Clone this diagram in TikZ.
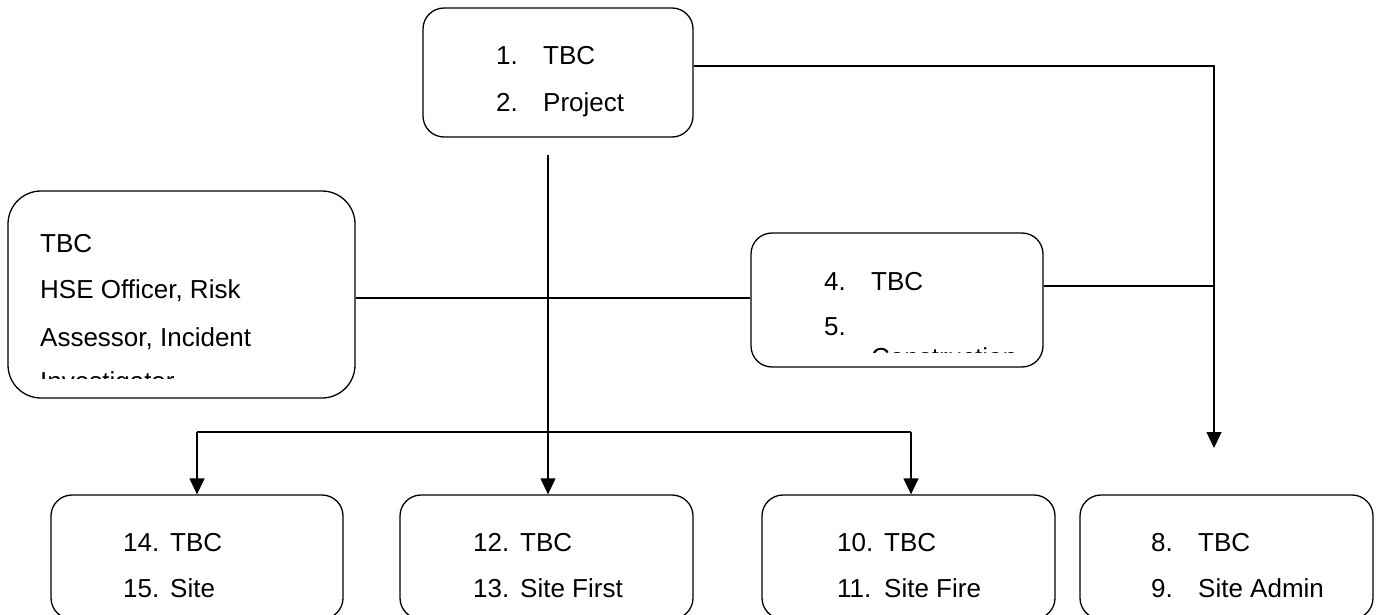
\documentclass[tikz,border=0pt]{standalone}
\usepackage{fontspec}
\setmainfont{Liberation Sans}
\usetikzlibrary{arrows.meta}

\tikzset{
  box/.style={draw, line width=1.3pt, rounded corners=21pt, inner sep=0pt},
  txt/.style={anchor=base west, inner sep=0pt, font=\fontsize{26}{30}\selectfont},
  conn/.style={line width=1.3pt},
  arr/.style={line width=1.3pt, -{Triangle[length=16pt,width=15pt]}}
}
\newcommand{\itm}[2]{\makebox[47pt][l]{#1}#2}

\begin{document}
\begin{tikzpicture}[x=1pt,y=-1pt]
\useasboundingbox (0,0) rectangle (1379,615);
\clip (0,0) rectangle (1379,615);

%Shape: Rounded Rectangle [top]
\node (proj) [box, minimum width=270pt, minimum height=129pt] at (558,72.5) {};
%Shape: Rounded Rectangle [left]
\node (hse) [box, rounded corners=33pt, minimum width=347pt, minimum height=207pt] at (181.5,294.5) {};
%Shape: Rounded Rectangle [middle]
\node (con) [box, minimum width=292pt, minimum height=134pt] at (897,300) {};
%Shape: Rounded Rectangle [bottom row]
\node (site) [box, minimum width=292pt, minimum height=124pt] at (197,557) {};
\node (first) [box, minimum width=293pt, minimum height=124pt] at (546.5,557) {};
\node (fire) [box, minimum width=293pt, minimum height=124pt] at (908.5,557) {};
\node (admin) [box, minimum width=293pt, minimum height=124pt] at (1226.5,557) {};

% Junction points
\coordinate (tr) at (1214,66);
\coordinate (tre) at (1214,448);
\coordinate (mr) at (1214,286);
\coordinate (ml) at (548,298);
\coordinate (vs) at (548,155);
\coordinate (jn) at (548,432);
\coordinate (hl) at (197,432);
\coordinate (hr) at (911,432);

%Connectors
\draw [arr] (proj.east |- tr) -- (tr) -- (tre);
\draw [conn] (con.east |- mr) -- (mr);
\draw [conn] (hse.east |- ml) -- (con.west |- ml);
\draw [conn] (vs) -- (jn);
\draw [conn] (hl) -- (hr);
\draw [arr] (hl) -- (hl |- site.north);
\draw [arr] (jn) -- (jn |- first.north);
\draw [arr] (hr) -- (hr |- fire.north);

% Text Node
\node (p1) [txt] at (496,65) {\itm{1.}{TBC}};
\node (p2) [txt] at (496,112) {\itm{2.}{Project}};
% Text Node
\begin{scope}
\clip (8,191) rectangle (355,378);
\node (h1) [txt] at (40,252) {TBC};
\node (h2) [txt] at (40,298) {HSE Officer, Risk};
\node (h3) [txt] at (40,346) {Assessor, Incident};
\node (h4) [txt] at (40,390) {Investigator};
\end{scope}
% Text Node
\begin{scope}
\clip (751,233) rectangle (1043,352);
\node (c1) [txt] at (824,290) {\itm{4.}{TBC}};
\node (c2) [txt] at (824,335) {5.};
\node (c3) [txt] at (871,366) {Construction};
\end{scope}
% Text Node
\node (s1) [txt] at (123,551) {\itm{14.}{TBC}};
\node (s2) [txt] at (123,597) {\itm{15.}{Site}};
\node (f1) [txt] at (473,551) {\itm{12.}{TBC}};
\node (f2) [txt] at (473,597) {\itm{13.}{Site First}};
\node (r1) [txt] at (837,551) {\itm{10.}{TBC}};
\node (r2) [txt] at (837,597) {\itm{11.}{Site Fire}};
\node (a1) [txt] at (1151,551) {\itm{8.}{TBC}};
\node (a2) [txt] at (1151,597) {\itm{9.}{Site Admin}};
\end{tikzpicture}
\end{document}
